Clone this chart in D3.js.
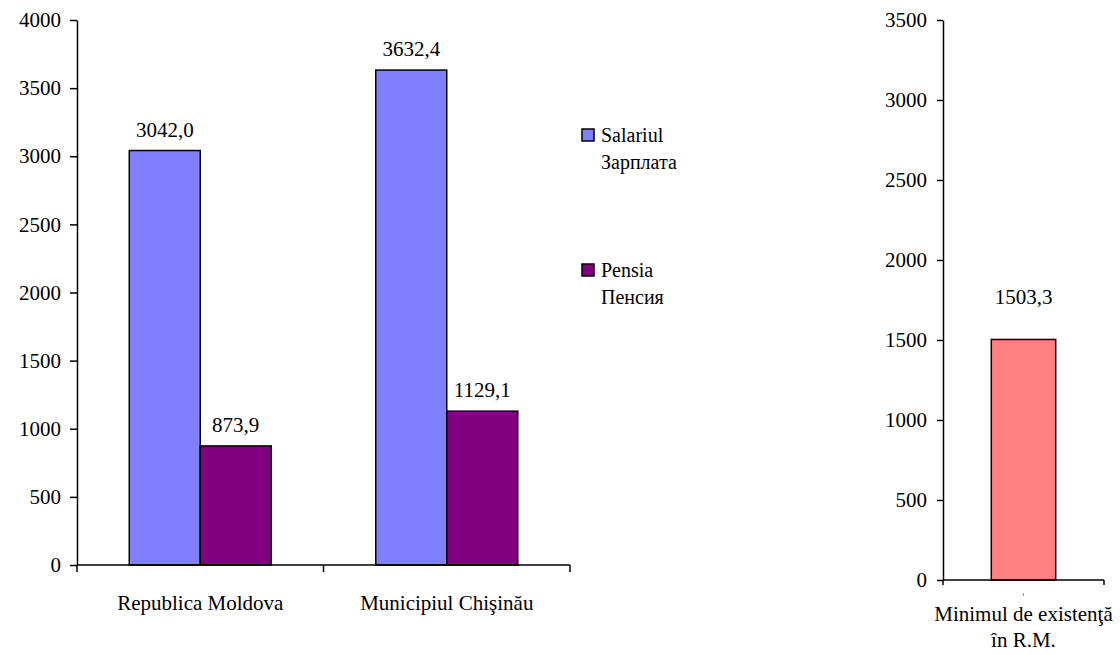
<!DOCTYPE html>
<html>
<head>
<meta charset="utf-8">
<script src="https://cdn.jsdelivr.net/npm/d3@7"></script>
<style>
  svg text { font-family: "Liberation Serif", Tinos, "Nimbus Roman", FreeSerif, "DejaVu Serif", serif !important; }
</style>
</head>
<body style="margin:0">
<script>
// Data
var categories = ["Republica Moldova", "Municipiul Chişinău"];
var seriesNames = [["Salariul", "Зарплата"], ["Pensia", "Пенсия"]];
var salary = [3042.0, 3632.4];
var pension = [873.9, 1129.1];
var leftTicks = [0, 500, 1000, 1500, 2000, 2500, 3000, 3500, 4000];

var minCategory = ["Minimul de existenţă", "în R.M."];
var minValue = [1503.3];
var rightTicks = [0, 500, 1000, 1500, 2000, 2500, 3000, 3500];

var colors = ["#8080FF", "#800080"];
var minColor = "#FF8080";

function fmt(v) { return v.toFixed(1).replace(".", ","); }

function serif(sel, size) {
    sel.style("font-family", function() { return "Liberation Serif"; })
        .attr("font-size", size);
    return sel;
}

var svg = d3.select("body").append("svg")
    .attr("width", 1120)
    .attr("height", 655);

// ---- left chart ----
var y = d3.scaleLinear().domain([0, 4000]).range([565, 20]);
var x0 = d3.scaleBand().domain(categories).range([77, 570]);
var x1 = d3.scaleBand().domain([0, 1])
    .range([x0.bandwidth() * 0.212, x0.bandwidth() * 0.788]);

var left = svg.append("g");

var groups = left.selectAll("g.cat")
    .data(categories)
    .enter().append("g")
    .attr("class", "cat")
    .attr("transform", function(d) { return "translate(" + x0(d) + ",0)"; });

groups.selectAll("rect")
    .data(function(d, i) { return [salary[i], pension[i]]; })
    .enter().append("rect")
    .attr("x", function(d, j) { return x1(j); })
    .attr("y", function(d) { return y(d); })
    .attr("width", x1.bandwidth())
    .attr("height", function(d) { return y(0) - y(d); })
    .attr("fill", function(d, j) { return colors[j]; })
    .attr("stroke", "#000")
    .attr("stroke-width", 1.5);

groups.selectAll("text.val")
    .data(function(d, i) { return [salary[i], pension[i]]; })
    .enter().append("text")
    .attr("class", "val")
    .attr("x", function(d, j) { return x1(j) + x1.bandwidth() / 2; })
    .attr("y", function(d) { return y(d) - 14; })
    .attr("text-anchor", "middle")
    .call(serif, 21)
    .text(fmt);

left.append("g")
    .attr("transform", "translate(77,0)")
    .call(d3.axisLeft(y).tickValues(leftTicks).tickFormat(d3.format("d"))
        .tickSize(7).tickSizeOuter(0).tickPadding(9));

// x axis with ticks at band edges
var xEdges = categories.map(function(c) { return x0(c); }).concat([x0.range()[1]]);
left.append("line")
    .attr("x1", 77).attr("x2", 570)
    .attr("y1", y(0)).attr("y2", y(0))
    .attr("stroke", "#000").attr("stroke-width", 1.5);
left.selectAll("line.xt")
    .data(xEdges)
    .enter().append("line")
    .attr("class", "xt")
    .attr("x1", function(d) { return d; }).attr("x2", function(d) { return d; })
    .attr("y1", y(0)).attr("y2", y(0) + 7)
    .attr("stroke", "#000").attr("stroke-width", 1.5);
left.selectAll("text.cat")
    .data(categories)
    .enter().append("text")
    .attr("class", "cat")
    .attr("x", function(d) { return x0(d) + x0.bandwidth() / 2; })
    .attr("y", 610)
    .attr("text-anchor", "middle")
    .call(serif, 21)
    .text(function(d) { return d; });

// ---- legend ----
var legend = svg.append("g");
var legendY = [129, 264];
seriesNames.forEach(function(names, i) {
    legend.append("rect")
        .attr("x", 582).attr("y", legendY[i])
        .attr("width", 12).attr("height", 12)
        .attr("fill", colors[i])
        .attr("stroke", "#000").attr("stroke-width", 1.5);
    names.forEach(function(t, k) {
        legend.append("text")
            .attr("x", 601)
            .attr("y", legendY[i] + 13 + k * 27)
            .call(serif, 20)
            .text(t);
    });
});

// ---- right chart ----
var yR = d3.scaleLinear().domain([0, 3500]).range([580, 20]);
var xR = d3.scaleBand().domain([0]).range([943, 1104]);
var right = svg.append("g");

right.selectAll("rect")
    .data(minValue)
    .enter().append("rect")
    .attr("x", function(d, i) { return xR(i) + xR.bandwidth() * 0.3; })
    .attr("y", function(d) { return yR(d); })
    .attr("width", xR.bandwidth() * 0.4)
    .attr("height", function(d) { return yR(0) - yR(d); })
    .attr("fill", minColor)
    .attr("stroke", "#000").attr("stroke-width", 1.5);

right.selectAll("text.val")
    .data(minValue)
    .enter().append("text")
    .attr("class", "val")
    .attr("x", function(d, i) { return xR(i) + xR.bandwidth() / 2; })
    .attr("y", function(d) { return yR(d) - 35; })
    .attr("text-anchor", "middle")
    .call(serif, 21)
    .text(fmt);

right.append("g")
    .attr("transform", "translate(943,0)")
    .call(d3.axisLeft(yR).tickValues(rightTicks).tickFormat(d3.format("d"))
        .tickSize(6).tickSizeOuter(0).tickPadding(10));

right.append("line")
    .attr("x1", 943).attr("x2", 1104)
    .attr("y1", yR(0)).attr("y2", yR(0))
    .attr("stroke", "#000").attr("stroke-width", 1.5);
right.selectAll("line.xt")
    .data([943, 1104])
    .enter().append("line")
    .attr("class", "xt")
    .attr("x1", function(d) { return d; }).attr("x2", function(d) { return d; })
    .attr("y1", yR(0)).attr("y2", yR(0) + 5)
    .attr("stroke", "#000").attr("stroke-width", 1.5);
// faint mark under the bar centre
right.append("line")
    .attr("x1", xR(0) + xR.bandwidth() / 2).attr("x2", xR(0) + xR.bandwidth() / 2)
    .attr("y1", 593).attr("y2", 596)
    .attr("stroke", "#999").attr("stroke-width", 1);

minCategory.forEach(function(t, k) {
    right.append("text")
        .attr("x", xR(0) + xR.bandwidth() / 2)
        .attr("y", 621 + k * 26)
        .attr("text-anchor", "middle")
        .call(serif, 21)
        .text(t);
});

// axis styling
svg.selectAll(".domain").attr("stroke", "#000").attr("stroke-width", 1.5);
svg.selectAll(".tick line").attr("stroke", "#000").attr("stroke-width", 1.5);
svg.selectAll("g[font-family]").attr("font-family", null).attr("font-size", null);
svg.selectAll(".tick text").call(serif, 21).attr("fill", "#000");
</script>
</body>
</html>
